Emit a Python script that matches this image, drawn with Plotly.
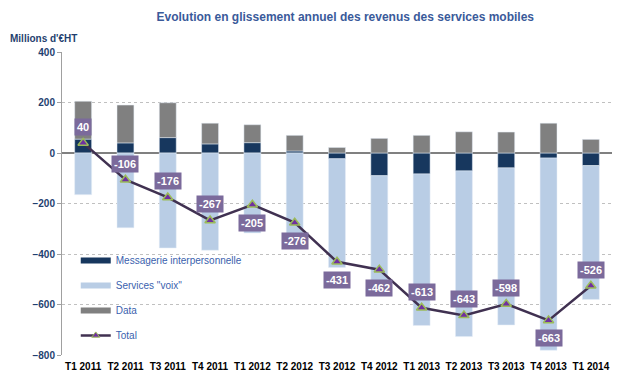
import plotly.graph_objects as go

categories = ["T1 2011", "T2 2011", "T3 2011", "T4 2011", "T1 2012", "T2 2012", "T3 2012",
              "T4 2012", "T1 2013", "T2 2013", "T3 2013", "T4 2013", "T1 2014"]
messagerie = [55, 40, 61, 36, 41, 8, -23, -90, -83, -71, -59, -20, -50]
voix = [-165, -296, -376, -385, -317, -346, -430, -430, -600, -656, -622, -761, -530]
data = [150, 150, 138, 82, 71, 62, 22, 58, 70, 84, 83, 118, 54]
total = [40, -106, -176, -267, -205, -276, -431, -462, -613, -643, -598, -663, -526]
label_side = [1, 1, 1, 1, -1, -1, -1, -1, 1, 1, 1, -1, 1]

C_MSG = "#17375e"
C_VOIX = "#b9cde5"
C_DATA = "#808080"
C_LINE = "#403151"
FONT = "Liberation Sans, Arial, sans-serif"
NARROW = "Liberation Sans Narrow, Arial Narrow, Liberation Sans, sans-serif"

fig = go.Figure()
fig.add_bar(x=categories, y=messagerie, marker_color=C_MSG, showlegend=False, name="Messagerie interpersonnelle")
fig.add_bar(x=categories, y=voix, marker_color=C_VOIX, showlegend=False, name='Services "voix"')
fig.add_bar(x=categories, y=data, marker_color=C_DATA, showlegend=False, name="Data")
fig.add_scatter(x=categories, y=total, mode="lines+markers", name="Total", showlegend=False,
                line=dict(color=C_LINE, width=2.5),
                marker=dict(symbol="triangle-up", size=9, color="#7030a0",
                            line=dict(color="#9bbb59", width=1.5)))

# legend entries with wide swatches
for name, col in [("Messagerie interpersonnelle", C_MSG), ('Services "voix"', C_VOIX), ("Data", C_DATA)]:
    fig.add_scatter(x=[None], y=[None], mode="lines", name=name, legendgroup=name,
                    line=dict(color=col, width=6))
fig.add_scatter(x=[None], y=[None], mode="lines+markers", name="Total", legendgroup="Total",
                line=dict(color=C_LINE, width=2.5),
                marker=dict(symbol="triangle-up", size=7, color="#7030a0",
                            line=dict(color="#9bbb59", width=1)))

for c, t, s in zip(categories, total, label_side):
    fig.add_annotation(x=c, y=t, text=f"<b>{t}</b>", showarrow=False, yshift=(16 if s > 0 else 18) * s,
                       bgcolor="#7b6a9b", font=dict(color="white", size=11, family=FONT),
                       borderpad=2)

fig.add_annotation(text="<b>Millions d'€HT</b>", xref="paper", yref="paper", x=-0.098, y=1.02,
                   xanchor="left", yanchor="bottom", showarrow=False,
                   font=dict(size=10, color="#1f3f6f", family=NARROW))

fig.update_layout(
    width=621, height=384,
    margin=dict(l=62, r=9, t=52, b=29),
    barmode="relative", bargap=0.6,
    plot_bgcolor="white", paper_bgcolor="white",
    font=dict(family=FONT),
    title=dict(text="<b>Evolution en glissement annuel des revenus des services mobiles</b>",
               x=0.556, xanchor="center", y=0.955, yanchor="middle",
               font=dict(size=12, color="#3a5a9a", family=FONT)),
    legend=dict(x=0.025, y=0.36, xanchor="left", yanchor="top", bgcolor="rgba(0,0,0,0)",
                traceorder="grouped", tracegroupgap=6, itemwidth=30,
                font=dict(size=10, color="#3a5fae", family=FONT)),
    yaxis=dict(range=[-800, 400], dtick=200, showgrid=True, gridcolor="#c0c0c0", griddash="dot",
               zeroline=True, zerolinecolor="#808080", zerolinewidth=1.5,
               showline=True, linecolor="#a0a0a0", ticks="outside", ticklen=4, tickcolor="#a0a0a0",
               tickfont=dict(size=10, color="#1f3f6f", family=NARROW), tickprefix="<b>", ticksuffix="</b>"),
    xaxis=dict(range=[-0.5, len(categories) - 0.5], showgrid=False, showline=False, ticks="",
               ticklabelstandoff=4,
               tickfont=dict(size=10, color="#000000", family=NARROW), tickprefix="<b>", ticksuffix="</b>"),
)

fig.write_html("out.html", config={"displayModeBar": False},
               post_script="document.body.style.margin='0';")
